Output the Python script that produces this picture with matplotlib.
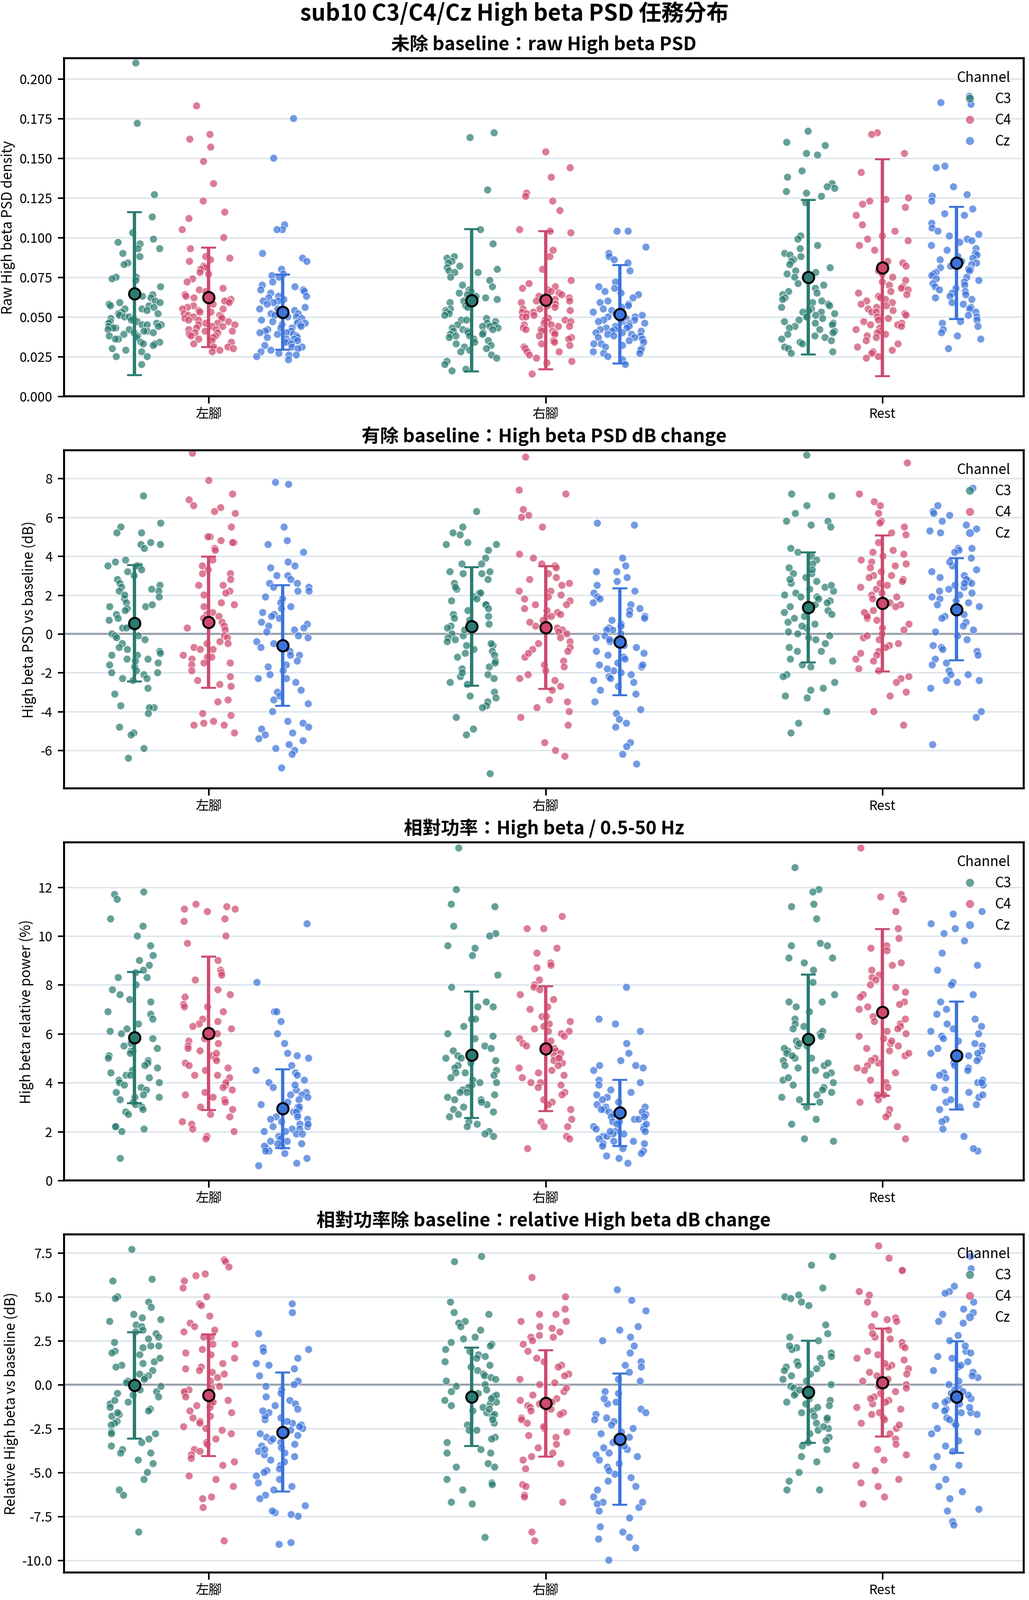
import numpy as np
import pandas as pd
import matplotlib
matplotlib.use("Agg")
import matplotlib.pyplot as plt
from matplotlib.lines import Line2D
from matplotlib.ticker import FormatStrFormatter
import seaborn as sns

plt.rcParams['font.family'] = ['Noto Sans CJK TC', 'DejaVu Sans']
plt.rcParams['axes.unicode_minus'] = False

tasks = ['左腳', '右腳', 'Rest']
channels = ['C3', 'C4', 'Cz']
colors = ['#2A7B70', '#CF4A6E', '#3C74DA']
offsets = [-0.22, 0.0, 0.22]

# ---- raw High beta PSD ----
raw_L_C3 = [0.210, 0.172, 0.127, 0.113, 0.103, 0.099, 0.097, 0.096, 0.093, 0.093, 0.090, 0.088, 0.084, 0.083, 0.075,
            0.075, 0.074, 0.073, 0.069, 0.064, 0.063, 0.062, 0.060, 0.059, 0.059, 0.058, 0.057, 0.057, 0.056, 0.055,
            0.055, 0.054, 0.053, 0.052, 0.052, 0.051, 0.050, 0.050, 0.049, 0.049, 0.048, 0.047, 0.047, 0.046, 0.046,
            0.045, 0.045, 0.045, 0.044, 0.044, 0.043, 0.043, 0.042, 0.042, 0.041, 0.041, 0.040, 0.040, 0.039, 0.038,
            0.038, 0.037, 0.036, 0.036, 0.034, 0.034, 0.033, 0.033, 0.032, 0.030, 0.029, 0.028, 0.025, 0.025, 0.020]
raw_L_C4 = [0.183, 0.165, 0.162, 0.157, 0.148, 0.134, 0.123, 0.116, 0.112, 0.105, 0.100, 0.093, 0.088, 0.087, 0.086,
            0.085, 0.082, 0.081, 0.080, 0.078, 0.077, 0.074, 0.072, 0.068, 0.067, 0.066, 0.064, 0.063, 0.062, 0.061,
            0.060, 0.060, 0.059, 0.058, 0.057, 0.056, 0.055, 0.055, 0.054, 0.053, 0.053, 0.052, 0.051, 0.051, 0.050,
            0.050, 0.049, 0.049, 0.048, 0.048, 0.047, 0.046, 0.046, 0.045, 0.045, 0.044, 0.044, 0.043, 0.042, 0.042,
            0.041, 0.041, 0.040, 0.040, 0.039, 0.038, 0.038, 0.037, 0.036, 0.035, 0.034, 0.033, 0.031, 0.031, 0.030,
            0.029, 0.028]
raw_L_Cz = [0.175, 0.150, 0.108, 0.105, 0.105, 0.090, 0.087, 0.085, 0.080, 0.077, 0.076, 0.075, 0.072, 0.070, 0.069,
            0.067, 0.067, 0.066, 0.065, 0.063, 0.063, 0.062, 0.061, 0.060, 0.060, 0.059, 0.058, 0.056, 0.055, 0.055,
            0.054, 0.052, 0.052, 0.051, 0.050, 0.050, 0.049, 0.048, 0.047, 0.047, 0.046, 0.046, 0.045, 0.045, 0.044,
            0.043, 0.043, 0.042, 0.041, 0.041, 0.040, 0.040, 0.039, 0.039, 0.038, 0.037, 0.037, 0.036, 0.036, 0.035,
            0.034, 0.034, 0.033, 0.032, 0.031, 0.031, 0.030, 0.029, 0.028, 0.027, 0.026, 0.026, 0.025, 0.023]
raw_R_C3 = [0.166, 0.163, 0.130, 0.105, 0.096, 0.088, 0.087, 0.085, 0.084, 0.082, 0.081, 0.080, 0.079, 0.078, 0.078,
            0.075, 0.073, 0.070, 0.069, 0.067, 0.066, 0.065, 0.064, 0.063, 0.062, 0.061, 0.060, 0.059, 0.058, 0.057,
            0.056, 0.055, 0.054, 0.053, 0.052, 0.051, 0.049, 0.048, 0.048, 0.047, 0.046, 0.045, 0.045, 0.044, 0.044,
            0.043, 0.043, 0.042, 0.042, 0.041, 0.041, 0.040, 0.040, 0.039, 0.039, 0.038, 0.038, 0.037, 0.036, 0.035,
            0.034, 0.033, 0.032, 0.031, 0.030, 0.029, 0.028, 0.026, 0.024, 0.022, 0.020, 0.017, 0.016]
raw_R_C4 = [0.154, 0.144, 0.138, 0.128, 0.126, 0.123, 0.117, 0.105, 0.104, 0.103, 0.092, 0.088, 0.080, 0.073, 0.071,
            0.069, 0.068, 0.067, 0.066, 0.065, 0.064, 0.063, 0.062, 0.061, 0.060, 0.060, 0.059, 0.058, 0.057, 0.056,
            0.055, 0.055, 0.054, 0.053, 0.053, 0.052, 0.051, 0.050, 0.050, 0.049, 0.048, 0.048, 0.047, 0.047, 0.046,
            0.045, 0.045, 0.044, 0.044, 0.043, 0.042, 0.042, 0.041, 0.041, 0.040, 0.039, 0.038, 0.037, 0.036, 0.035,
            0.034, 0.033, 0.032, 0.031, 0.030, 0.028, 0.028, 0.026, 0.024, 0.022, 0.021, 0.014]
raw_R_Cz = [0.104, 0.104, 0.094, 0.090, 0.088, 0.086, 0.084, 0.079, 0.072, 0.069, 0.068, 0.066, 0.065, 0.064, 0.062,
            0.060, 0.059, 0.058, 0.057, 0.056, 0.055, 0.054, 0.053, 0.052, 0.052, 0.051, 0.050, 0.050, 0.049, 0.048,
            0.048, 0.047, 0.047, 0.046, 0.046, 0.045, 0.045, 0.044, 0.044, 0.043, 0.043, 0.042, 0.042, 0.041, 0.041,
            0.040, 0.040, 0.039, 0.039, 0.038, 0.038, 0.037, 0.037, 0.036, 0.035, 0.034, 0.033, 0.033, 0.032, 0.031,
            0.030, 0.029, 0.028, 0.027, 0.027, 0.025, 0.023, 0.020]
raw_S_C3 = [0.167, 0.160, 0.158, 0.153, 0.152, 0.142, 0.138, 0.134, 0.132, 0.131, 0.129, 0.128, 0.126, 0.122, 0.101,
            0.099, 0.095, 0.093, 0.090, 0.089, 0.088, 0.086, 0.085, 0.083, 0.081, 0.079, 0.078, 0.077, 0.075, 0.073,
            0.071, 0.070, 0.068, 0.066, 0.065, 0.064, 0.062, 0.061, 0.060, 0.059, 0.058, 0.057, 0.056, 0.055, 0.054,
            0.053, 0.053, 0.052, 0.051, 0.050, 0.050, 0.049, 0.048, 0.047, 0.046, 0.046, 0.045, 0.044, 0.043, 0.042,
            0.041, 0.040, 0.039, 0.038, 0.037, 0.036, 0.035, 0.034, 0.033, 0.031, 0.030, 0.028, 0.027]
raw_S_C4 = [0.166, 0.165, 0.153, 0.141, 0.125, 0.124, 0.123, 0.121, 0.119, 0.114, 0.108, 0.104, 0.101, 0.099, 0.098,
            0.095, 0.092, 0.085, 0.084, 0.082, 0.080, 0.079, 0.077, 0.075, 0.073, 0.072, 0.070, 0.069, 0.068, 0.067,
            0.066, 0.065, 0.064, 0.063, 0.062, 0.061, 0.060, 0.059, 0.058, 0.057, 0.056, 0.055, 0.054, 0.053, 0.053,
            0.052, 0.051, 0.050, 0.049, 0.048, 0.047, 0.046, 0.045, 0.045, 0.044, 0.043, 0.042, 0.041, 0.040, 0.039,
            0.038, 0.037, 0.035, 0.033, 0.031, 0.029, 0.028, 0.027, 0.025, 0.024]
raw_S_Cz = [0.189, 0.185, 0.184, 0.145, 0.144, 0.132, 0.127, 0.126, 0.123, 0.118, 0.115, 0.114, 0.109, 0.106, 0.104,
            0.102, 0.101, 0.099, 0.098, 0.097, 0.095, 0.093, 0.092, 0.090, 0.089, 0.088, 0.087, 0.086, 0.085, 0.084,
            0.083, 0.082, 0.081, 0.080, 0.080, 0.079, 0.078, 0.077, 0.076, 0.075, 0.074, 0.073, 0.072, 0.071, 0.070,
            0.069, 0.068, 0.067, 0.066, 0.065, 0.064, 0.063, 0.062, 0.061, 0.059, 0.058, 0.056, 0.055, 0.053, 0.051,
            0.050, 0.048, 0.047, 0.046, 0.044, 0.042, 0.040, 0.038, 0.036, 0.030]
raw_mean = [[0.0646, 0.0623, 0.0529], [0.0604, 0.0605, 0.0517], [0.0749, 0.0809, 0.0840]]
raw_sd = [[0.0513, 0.0313, 0.0237], [0.0449, 0.0435, 0.0309], [0.0486, 0.0683, 0.0352]]

# ---- High beta PSD dB change ----
db_L_C3 = [7.1, 5.7, 5.5, 5.2, 5.2, 4.7, 4.6, 4.6, 4.4, 3.8, 3.7, 3.5, 3.5, 3.5, 3.2, 3.0, 2.8, 2.6, 2.5, 2.4, 2.2, 2.2,
           1.9, 1.8, 1.6, 1.4, 1.4, 1.3, 1.0, 0.7, 0.4, 0.3, 0.0, -0.1, -0.1, -0.3, -0.5, -0.7, -0.9, -1.1, -1.1,
           -1.3, -1.3, -1.5, -1.6, -1.7, -1.9, -2.0, -2.1, -2.3, -2.3, -2.4, -2.8, -3.1, -3.7, -3.8, -3.8, -4.1,
           -4.8, -5.1, -5.2, -5.9, -6.4, 3.3, 2.3, 2.0, 1.5, 1.2, 0.8, 0.5, 0.3, -0.2, -0.8, -1.0, -1.4, -2.0]
db_L_C4 = [9.3, 7.9, 7.2, 6.9, 6.6, 6.5, 6.3, 6.2, 5.5, 5.0, 5.0, 4.8, 4.7, 4.7, 4.4, 4.3, 3.8, 3.5, 3.3, 3.1, 3.1, 2.8,
           2.5, 2.5, 2.2, 2.1, 2.0, 1.6, 1.5, 1.4, 1.1, 1.0, 0.9, 0.8, 0.6, 0.4, 0.3, 0.2, -0.1, -0.2, -0.4, -0.5,
           -0.5, -0.7, -0.8, -0.8, -1.1, -1.2, -1.2, -1.3, -1.5, -1.5, -1.6, -1.9, -2.2, -2.4, -2.6, -2.7, -3.4,
           -3.5, -4.1, -4.2, -4.5, -4.6, -4.7, -4.7, -5.1]
db_L_Cz = [7.8, 7.7, 5.5, 4.8, 4.6, 4.2, 3.7, 3.5, 3.4, 3.0, 3.0, 2.8, 2.6, 2.6, 2.4, 2.4, 2.2, 2.2, 1.9, 1.8, 1.6, 1.4,
           1.3, 1.1, 1.0, 0.9, 0.8, 0.6, 0.5, 0.4, 0.3, 0.2, 0.1, -0.1, -0.2, -0.4, -0.5, -0.7, -0.9, -1.1, -1.1,
           -1.4, -1.6, -1.7, -1.9, -2.1, -2.3, -2.3, -2.5, -2.9, -3.0, -3.2, -3.4, -3.6, -4.0, -4.5, -4.6, -4.8,
           -4.9, -5.1, -5.2, -5.4, -5.5, -5.7, -5.9, -6.0, -6.2, -6.9]
db_R_C3 = [6.3, 5.5, 5.2, 5.1, 4.7, 4.6, 4.6, 4.3, 3.9, 3.6, 3.6, 3.2, 3.2, 3.1, 3.1, 2.6, 2.3, 2.1, 2.1, 1.9, 1.8, 1.7,
           1.5, 1.5, 1.3, 1.0, 0.8, 0.7, 0.4, 0.3, 0.0, -0.1, -0.2, -0.3, -0.6, -0.6, -0.8, -0.9, -1.0, -1.1, -1.4,
           -1.7, -1.8, -2.1, -2.2, -2.3, -2.6, -3.0, -3.2, -3.3, -3.5, -3.7, -3.8, -4.3, -4.9, -5.2, -7.2,
           2.8, 2.4, 1.2, 0.9, 0.5, 0.2, -0.4, -0.5, -1.2, -1.5, -2.0, -2.5]
db_R_C4 = [9.1, 7.4, 7.2, 6.4, 6.1, 6.0, 5.5, 4.1, 3.9, 3.6, 3.5, 3.4, 3.1, 2.9, 2.8, 2.5, 2.2, 2.2, 1.9, 1.8, 1.7, 1.5,
           1.5, 1.3, 1.1, 0.9, 0.9, 0.7, 0.4, 0.3, 0.2, 0.0, -0.4, -0.7, -0.8, -0.9, -1.2, -1.4, -1.6, -1.7, -2.3,
           -2.4, -2.7, -2.9, -3.4, -3.5, -3.8, -4.0, -4.3, -4.7, -5.6, -6.0, -6.3,
           2.6, 2.0, 1.2, 1.0, 0.6, 0.5, 0.1, -0.2, -0.5, -1.0, -1.9, -2.1]
db_R_Cz = [5.7, 5.6, 3.9, 3.5, 3.2, 3.2, 2.9, 2.7, 2.5, 2.2, 2.1, 1.9, 1.8, 1.6, 1.5, 1.2, 1.0, 0.9, 0.7, 0.5, 0.3, 0.2,
           0.2, -0.1, -0.2, -0.4, -0.9, -1.2, -1.5, -1.6, -1.7, -1.9, -2.1, -2.4, -2.7, -2.9, -3.1, -3.5, -3.9, -4.1,
           -4.4, -4.6, -4.8, -5.6, -5.8, -6.2, -6.7,
           1.3, 0.8, 0.4, 0.0, -0.3, -0.6, -0.7, -1.0, -1.3, -1.6, -1.8, -2.0, -2.2, -2.5, -2.3, -1.1]
db_S_C3 = [9.2, 7.2, 7.1, 6.6, 6.2, 5.8, 5.8, 5.6, 5.5, 4.4, 4.2, 4.0, 3.8, 3.6, 3.4, 3.1, 3.1, 2.9, 2.7, 2.6, 2.4, 2.2,
           1.9, 1.7, 1.5, 1.4, 1.2, 1.0, 0.8, 0.6, 0.3, 0.1, -0.1, -0.2, -0.5, -0.9, -0.9, -1.3, -1.4, -1.6, -1.7,
           -2.1, -2.2, -2.5, -2.8, -2.9, -3.2, -3.3, -4.0, -4.6, -5.1,
           3.3, 2.8, 2.5, 2.3, 2.0, 1.8, 1.6, 1.3, 1.1, 0.9, 0.5, 0.4, 0.0, -0.3, -0.7, 2.1, 1.9]
db_S_C4 = [8.8, 7.2, 6.8, 6.6, 6.2, 5.8, 5.7, 5.5, 5.2, 5.1, 4.7, 4.3, 4.2, 4.1, 3.8, 3.7, 3.5, 3.4, 3.2, 3.0, 2.9, 2.8,
           2.7, 2.5, 2.3, 2.1, 1.9, 1.5, 1.2, 1.0, 0.8, 0.7, 0.3, 0.0, -0.2, -0.3, -0.6, -0.7, -0.9, -1.1, -1.3,
           -1.4, -1.8, -1.9, -2.2, -2.3, -2.5, -3.0, -3.2, -4.0, -4.7,
           4.0, 3.6, 3.0, 2.6, 2.4, 2.0, 1.8, 1.6, 1.4, 1.1, 0.9, 0.5, 0.2, -0.1, -0.5, -1.0]
db_S_Cz = [7.5, 6.6, 6.3, 6.2, 6.1, 5.8, 5.6, 5.4, 5.3, 5.2, 4.4, 4.4, 4.3, 4.2, 3.9, 3.5, 3.2, 2.9, 2.7, 2.6, 2.5, 2.4,
           2.3, 1.9, 1.7, 1.6, 1.3, 1.2, 0.9, 0.6, 0.1, -0.1, -0.6, -0.7, -0.8, -0.9, -1.3, -1.6, -1.9, -2.1, -2.1,
           -2.4, -2.4, -2.5, -2.8, -4.0, -4.3, -5.7,
           3.7, 3.3, 3.0, 2.8, 2.2, 2.1, 2.0, 1.8, 1.5, 1.4, 1.0, 0.8, 0.4, 0.2, -0.3, -1.1, -1.5, 2.6]
db_mean = [[0.55, 0.60, -0.59], [0.38, 0.33, -0.41], [1.37, 1.57, 1.26]]
db_sd = [[3.00, 3.37, 3.11], [3.05, 3.16, 2.75], [2.83, 3.50, 2.63]]

# ---- relative power (%) ----
rel_L_C3 = [11.8, 11.7, 11.5, 10.7, 10.4, 10.0, 9.6, 9.2, 9.0, 8.8, 8.6, 8.5, 8.3, 8.3, 8.0, 7.8, 7.6, 7.4, 7.3, 6.9,
            6.8, 6.6, 6.4, 6.2, 6.1, 6.0, 5.8, 5.6, 5.5, 5.4, 5.3, 5.3, 5.2, 5.1, 5.0, 4.9, 4.8, 4.7, 4.6, 4.5, 4.4,
            4.3, 4.3, 4.2, 4.1, 4.0, 4.0, 3.9, 3.8, 3.7, 3.6, 3.5, 3.4, 3.4, 3.3, 3.2, 3.1, 3.0, 2.9, 2.8, 2.7, 2.2,
            2.2, 2.1, 2.0, 0.9]
rel_L_C4 = [11.3, 11.2, 11.1, 11.1, 11.0, 10.7, 10.6, 10.0, 9.7, 9.0, 8.6, 8.5, 8.4, 8.2, 7.8, 7.6, 7.5, 7.2, 7.1, 7.1,
            6.9, 6.6, 6.5, 6.4, 6.2, 6.1, 6.0, 5.9, 5.8, 5.7, 5.6, 5.5, 5.4, 5.3, 5.1, 5.0, 4.9, 4.8, 4.6, 4.5, 4.3,
            4.3, 4.2, 3.9, 3.7, 3.6, 3.5, 3.4, 3.3, 3.2, 3.0, 2.9, 2.7, 2.6, 2.4, 2.3, 2.1, 2.0, 1.8, 1.7,
            6.3, 5.2, 4.7, 4.0, 3.8]
rel_L_Cz = [10.5, 8.1, 6.9, 6.9, 6.5, 6.0, 5.6, 5.2, 5.1, 5.0, 4.7, 4.5, 4.4, 4.3, 4.1, 4.0, 3.8, 3.7, 3.6, 3.5, 3.5,
            3.3, 3.2, 3.1, 3.0, 2.9, 2.8, 2.7, 2.6, 2.5, 2.5, 2.4, 2.3, 2.2, 2.2, 2.1, 2.1, 2.0, 2.0, 1.9, 1.8, 1.7,
            1.6, 1.6, 1.5, 1.4, 1.3, 1.2, 1.1, 0.9, 0.7, 0.6, 3.9, 3.4, 3.0, 2.8, 2.6, 2.3, 1.9, 1.5, 1.4, 1.2]
rel_R_C3 = [13.6, 11.9, 11.3, 11.2, 10.4, 10.1, 10.0, 9.6, 9.5, 9.2, 8.4, 7.9, 7.3, 7.1, 7.1, 6.6, 6.6, 6.3, 6.0, 5.9,
            5.8, 5.5, 5.3, 5.1, 5.0, 5.0, 4.8, 4.7, 4.6, 4.5, 4.4, 4.3, 4.2, 4.1, 4.0, 3.9, 3.8, 3.7, 3.6, 3.5, 3.4,
            3.3, 3.3, 3.1, 3.0, 2.9, 2.8, 2.7, 2.6, 2.4, 2.3, 2.2, 2.0, 1.9, 1.8, 4.9, 4.4, 4.0, 3.6, 3.2, 5.4]
rel_R_C4 = [10.8, 10.3, 10.3, 9.5, 9.3, 8.9, 8.8, 8.7, 8.2, 8.0, 7.9, 7.8, 7.6, 7.4, 7.1, 7.0, 6.7, 6.7, 6.4, 6.3, 6.2,
            6.1, 6.0, 5.9, 5.8, 5.6, 5.5, 5.4, 5.3, 5.2, 5.1, 5.0, 4.9, 4.8, 4.7, 4.6, 4.5, 4.4, 4.2, 4.0, 3.9, 3.8,
            3.6, 3.5, 3.2, 3.1, 2.9, 2.5, 2.4, 2.2, 2.2, 1.8, 1.7, 1.3, 6.1, 4.0, 5.7, 5.0, 4.3, 3.3, 6.5]
rel_R_Cz = [7.9, 6.6, 6.4, 6.1, 5.6, 5.2, 4.9, 4.7, 4.7, 4.6, 4.5, 4.1, 4.0, 3.9, 3.7, 3.5, 3.4, 3.2, 3.1, 3.0, 2.9,
            2.8, 2.7, 2.7, 2.6, 2.5, 2.5, 2.4, 2.4, 2.3, 2.2, 2.2, 2.1, 2.1, 2.0, 2.0, 1.9, 1.9, 1.8, 1.7, 1.6, 1.5,
            1.4, 1.3, 1.2, 1.0, 0.9, 0.7, 3.3, 3.0, 2.8, 2.6, 2.3, 1.8, 1.6, 3.6, 2.9, 1.1, 2.0, 1.5]
rel_S_C3 = [12.8, 11.9, 11.8, 11.3, 11.2, 10.7, 9.7, 9.6, 9.6, 9.1, 9.1, 8.9, 8.6, 8.1, 7.6, 7.3, 7.3, 7.1, 6.9, 6.6,
            6.3, 6.0, 5.8, 5.5, 5.3, 5.0, 5.0, 4.7, 4.5, 4.4, 4.1, 4.0, 3.8, 3.6, 3.4, 3.2, 3.0, 2.5, 2.3, 1.7, 1.6,
            6.1, 5.9, 5.7, 5.6, 5.4, 5.2, 5.1, 4.9, 4.8, 4.6, 4.3, 4.2, 3.9, 3.7, 3.5, 3.3, 6.4, 6.2, 5.5, 4.7]
rel_S_C4 = [13.6, 11.7, 11.6, 11.5, 11.0, 10.3, 9.9, 9.6, 9.5, 9.4, 8.9, 8.8, 8.6, 8.4, 8.3, 8.2, 8.0, 7.9, 7.6, 7.5,
            7.3, 7.1, 6.8, 6.7, 6.4, 6.1, 5.9, 5.8, 5.6, 5.5, 5.3, 5.1, 4.8, 4.6, 4.4, 4.1, 4.0, 3.8, 3.5, 3.5, 3.3,
            3.2, 2.9, 2.7, 2.6, 2.2, 1.7, 7.0, 6.9, 6.6, 6.5, 6.3, 6.2, 6.0, 5.7, 5.4, 5.2, 5.0, 4.9, 4.7, 4.5, 7.7,
            7.2]
rel_S_Cz = [11.0, 10.9, 10.5, 10.3, 10.1, 9.8, 9.3, 8.8, 8.6, 8.1, 8.0, 7.6, 7.3, 7.0, 6.8, 6.6, 6.4, 6.2, 6.0, 5.7,
            5.4, 5.2, 5.1, 4.8, 4.6, 4.4, 4.2, 4.0, 3.9, 3.7, 3.6, 3.4, 3.2, 3.0, 2.9, 2.5, 2.4, 2.1, 1.8, 1.2,
            5.9, 5.8, 5.6, 5.5, 5.3, 5.0, 4.9, 4.7, 4.5, 4.3, 4.1, 3.8, 3.5, 3.3, 6.3, 6.1, 5.2, 4.0, 3.1, 1.3]
rel_mean = [[5.84, 6.02, 2.94], [5.14, 5.39, 2.76], [5.77, 6.88, 5.11]]
rel_sd = [[2.68, 3.14, 1.61], [2.58, 2.55, 1.35], [2.66, 3.41, 2.20]]

# ---- relative High beta dB change ----
rdb_L_C3 = [7.7, 6.0, 5.9, 5.0, 4.9, 4.7, 4.4, 4.0, 3.8, 3.7, 3.6, 3.4, 3.3, 3.1, 3.0, 2.9, 2.7, 2.6, 2.4, 2.2, 2.2,
            2.1, 1.9, 1.8, 1.7, 1.3, 1.1, 1.0, 0.8, 0.5, 0.4, 0.2, 0.1, -0.3, -0.4, -0.5, -0.7, -1.0, -1.1, -1.3,
            -1.4, -1.5, -1.7, -1.8, -2.1, -2.2, -2.3, -2.7, -2.8, -2.8, -3.1, -3.3, -3.5, -3.7, -3.9, -3.9, -4.3,
            -4.5, -5.0, -5.4, -6.0, -6.3, -8.4, 1.5, 1.2, 0.6, 0.3, -0.1, -0.6, -0.9, -1.6]
rdb_L_C4 = [7.1, 7.0, 6.7, 6.3, 6.2, 5.9, 5.5, 5.0, 4.6, 4.5, 3.9, 3.5, 3.3, 3.1, 3.0, 2.7, 2.7, 2.3, 2.3, 2.0, 1.8,
            1.7, 1.2, 1.0, 0.8, 0.7, 0.6, 0.2, -0.1, -0.3, -0.5, -0.9, -1.1, -1.3, -1.5, -1.6, -1.9, -2.1, -2.2,
            -2.5, -2.6, -2.8, -3.1, -3.3, -3.4, -3.7, -3.8, -4.0, -4.2, -4.4, -4.6, -5.2, -5.4, -5.8, -6.4, -6.5,
            -7.0, -8.9, 1.5, 0.4, -0.4, -0.7, -1.0, -1.2, -1.8, -2.4, -0.2, 0.9]
rdb_L_Cz = [4.6, 4.1, 2.9, 2.1, 2.0, 1.9, 1.5, 1.2, 1.1, 0.9, 0.5, 0.2, -0.3, -0.5, -0.7, -0.9, -1.1, -1.4, -1.6, -1.9,
            -2.0, -2.2, -2.3, -2.5, -3.0, -3.2, -3.3, -3.5, -3.8, -4.0, -4.1, -4.3, -4.6, -4.9, -5.0, -5.2, -5.4,
            -5.6, -6.0, -6.3, -6.5, -6.9, -7.3, -7.5, -9.0, -9.1, -1.2, -1.8, -2.1, -2.6, -2.8, -2.9, -3.1, -3.4,
            -3.6, -3.9, -4.4, -4.8, -5.8, -7.4, -7.2, -0.1, 0.0, -1.5, -2.4, -3.7]
rdb_R_C3 = [7.3, 7.0, 4.7, 4.1, 4.0, 3.6, 3.5, 3.3, 3.1, 2.7, 2.6, 2.4, 2.3, 2.2, 2.0, 1.9, 1.7, 1.6, 1.3, 1.1, 0.8,
            0.6, 0.5, 0.4, 0.2, 0.0, -0.3, -0.5, -0.7, -0.9, -1.1, -1.2, -1.5, -1.6, -1.8, -2.2, -2.3, -2.6, -2.6,
            -3.0, -3.1, -3.3, -3.7, -3.9, -3.9, -4.5, -4.7, -4.7, -5.4, -5.6, -5.7, -6.0, -6.7, -6.8, -8.7,
            -0.4, -0.6, -1.0, -1.3, -1.4, -1.7, -0.1, 0.3, 1.0, 1.5, -2.0, -0.8]
rdb_R_C4 = [6.1, 5.0, 4.3, 4.0, 4.0, 3.6, 3.3, 3.2, 3.0, 2.8, 2.7, 2.5, 2.3, 1.9, 1.5, 1.1, 1.0, 0.6, 0.5, 0.3, 0.1,
            -0.4, -0.8, -1.0, -1.2, -1.4, -1.6, -1.9, -2.0, -2.2, -2.5, -2.7, -2.9, -3.0, -3.4, -3.6, -3.9, -4.1,
            -4.3, -4.5, -4.8, -5.7, -5.8, -6.3, -6.4, -6.7, -8.4, -8.9, 3.6, 2.7,
            -0.6, -0.9, -1.1, -1.3, -1.5, -1.7, -0.2, 0.0, -2.4, 1.3]
rdb_R_Cz = [5.4, 4.8, 4.2, 3.3, 3.1, 2.7, 2.5, 2.2, 1.8, 1.3, 1.1, 1.0, 0.7, 0.3, 0.2, -0.4, -0.5, -1.0, -1.1, -1.4,
            -1.6, -1.9, -2.1, -2.3, -2.5, -3.0, -3.2, -3.3, -3.7, -3.9, -4.1, -4.5, -4.7, -5.1, -5.3, -5.5, -6.4,
            -6.7, -6.8, -7.0, -7.2, -7.6, -8.1, -8.4, -8.7, -8.8, -9.3, -10.0, -6.7,
            -2.7, -2.8, -3.5, -3.6, -4.0, -4.3, -4.9, -5.8, -6.0, -1.7, -2.0, -0.8]
rdb_S_C3 = [7.3, 6.8, 5.5, 5.1, 5.0, 4.9, 4.7, 4.5, 3.4, 2.9, 2.7, 2.5, 2.1, 2.0, 1.8, 1.6, 1.3, 1.1, 1.0, 0.8, 0.5,
            0.2, 0.0, -0.4, -0.8, -0.9, -1.1, -1.5, -1.8, -2.2, -2.5, -2.6, -3.0, -3.2, -3.3, -3.5, -3.7, -4.1,
            -4.4, -5.0, -5.5, -6.0, -6.0, 2.2, 1.5, 1.2, 0.6, 0.3, -0.1, -0.2, -0.5, -0.6, -0.7, -1.0, -1.2, -1.3,
            -1.6, -2.0, -2.8, 0.9, -0.3, -1.9, -2.4]
rdb_S_C4 = [7.9, 7.2, 6.5, 6.5, 5.3, 5.1, 4.7, 4.0, 3.8, 3.7, 3.6, 3.3, 2.7, 2.4, 2.2, 2.1, 1.7, 1.4, 1.1, 1.0, 0.7,
            0.5, 0.2, -0.1, -0.4, -0.7, -0.9, -1.1, -1.4, -1.7, -1.9, -2.2, -2.5, -2.8, -3.1, -3.4, -3.7, -4.0,
            -4.3, -4.6, -4.9, -5.4, -5.6, -5.8, -6.4, -6.8, 3.1, 2.9, 2.6, 1.9, 1.5, 1.2, 0.9, 0.3, 0.0, -0.2,
            -0.5, -0.8, -1.0, -1.3, -1.6, -2.0, -2.3, 0.6]
rdb_S_Cz = [7.3, 6.6, 5.6, 5.3, 5.2, 4.7, 4.3, 4.1, 4.0, 3.6, 3.5, 2.8, 2.5, 1.9, 1.8, 1.5, 1.3, 1.0, 0.7, 0.4, 0.0,
            -0.2, -0.5, -0.8, -1.1, -1.4, -1.6, -1.9, -2.2, -2.5, -2.7, -2.8, -3.2, -3.5, -3.8, -4.1, -4.6, -4.7,
            -5.4, -5.8, -6.1, -6.5, -7.1, -7.2, -7.8, -8.0, -1.6, 2.2, 1.6, 1.1, 0.8, 0.2, -0.3, -0.6, -0.9, -1.0,
            -1.2, -1.3, -1.5, -1.7, -2.0, 0.5, -0.4, -2.3]
rdb_mean = [[-0.04, -0.60, -2.70], [-0.69, -1.07, -3.10], [-0.41, 0.11, -0.71]]
rdb_sd = [[3.03, 3.47, 3.40], [2.81, 3.04, 3.73], [2.91, 3.07, 3.18]]

panels = [
    dict(title='未除 baseline：raw High beta PSD', ylabel='Raw High beta PSD density',
         groups=[[raw_L_C3, raw_L_C4, raw_L_Cz], [raw_R_C3, raw_R_C4, raw_R_Cz], [raw_S_C3, raw_S_C4, raw_S_Cz]],
         mean=raw_mean, sd=raw_sd, ylim=(0, 0.213), yticks=np.arange(0, 0.201, 0.025), fmt='%.3f', zero=False),
    dict(title='有除 baseline：High beta PSD dB change', ylabel='High beta PSD vs baseline (dB)',
         groups=[[db_L_C3, db_L_C4, db_L_Cz], [db_R_C3, db_R_C4, db_R_Cz], [db_S_C3, db_S_C4, db_S_Cz]],
         mean=db_mean, sd=db_sd, ylim=(-7.95, 9.45), yticks=np.arange(-6, 9, 2), fmt='%d', zero=True),
    dict(title='相對功率：High beta / 0.5-50 Hz', ylabel='High beta relative power (%)',
         groups=[[rel_L_C3, rel_L_C4, rel_L_Cz], [rel_R_C3, rel_R_C4, rel_R_Cz], [rel_S_C3, rel_S_C4, rel_S_Cz]],
         mean=rel_mean, sd=rel_sd, ylim=(0, 13.83), yticks=np.arange(0, 13, 2), fmt='%d', zero=False),
    dict(title='相對功率除 baseline：relative High beta dB change', ylabel='Relative High beta vs baseline (dB)',
         groups=[[rdb_L_C3, rdb_L_C4, rdb_L_Cz], [rdb_R_C3, rdb_R_C4, rdb_R_Cz], [rdb_S_C3, rdb_S_C4, rdb_S_Cz]],
         mean=rdb_mean, sd=rdb_sd, ylim=(-10.7, 8.55), yticks=np.arange(-10, 7.6, 2.5), fmt='%.1f', zero=True),
]

fig, axes = plt.subplots(4, 1, figsize=(10.8, 16.8), dpi=180)
fig.subplots_adjust(left=0.062, right=0.995, top=0.9636, bottom=0.0172, hspace=0.16)

for ax, p in zip(axes, panels):
    rows = []
    for ti in range(3):
        for ci, ch in enumerate(channels):
            for v in p['groups'][ti][ci]:
                rows.append((ti + offsets[ci], ch, v))
    df = pd.DataFrame(rows, columns=['pos', 'channel', 'value'])

    if p['zero']:
        ax.axhline(0, color='#9aa3ad', lw=1.6, zorder=1)
    sns.stripplot(data=df, x='pos', y='value', hue='channel', hue_order=channels, palette=colors,
                  native_scale=True, orient='x', jitter=0.36, size=5.8, alpha=0.72,
                  edgecolor='white', linewidth=0.5, legend=False, ax=ax, zorder=2)

    for ti in range(3):
        for ci in range(3):
            ax.errorbar(ti + offsets[ci], p['mean'][ti][ci], yerr=p['sd'][ti][ci], fmt='o',
                        color=colors[ci], ecolor=colors[ci], elinewidth=2.5, capsize=5.5, capthick=2.2,
                        markersize=8.5, markeredgecolor='black', markeredgewidth=1.5, zorder=5)

    ax.set_xlim(-0.43, 2.42)
    ax.set_xticks([0, 1, 2])
    ax.set_xticklabels(tasks, fontsize=10)
    ax.set_xlabel('')
    ax.set_ylim(*p['ylim'])
    ax.set_yticks(p['yticks'])
    ax.yaxis.set_major_formatter(FormatStrFormatter(p['fmt']))
    ax.tick_params(axis='y', labelsize=10, length=5, width=1.2)
    ax.tick_params(axis='x', length=5, width=1.2)
    ax.set_ylabel(p['ylabel'], fontsize=10.5, labelpad=3)
    ax.set_title(p['title'], fontsize=14, fontweight='bold', pad=6)
    ax.yaxis.grid(True, color='#dde4ec', lw=1.1)
    ax.xaxis.grid(False)
    ax.set_axisbelow(True)
    for s in ax.spines.values():
        s.set_linewidth(1.5)
        s.set_color('black')

    handles = [Line2D([], [], marker='o', ls='', color=c, alpha=0.72, markersize=6.5,
                      markeredgecolor='white', markeredgewidth=0.5) for c in colors]
    ax.legend(handles, channels, title='Channel', loc='upper right', frameon=False,
              fontsize=10.5, title_fontsize=10.5)

fig.suptitle('sub10 C3/C4/Cz High beta PSD 任務分布', fontsize=17, fontweight='bold', y=0.999)
fig.savefig('out.png', dpi=180)
